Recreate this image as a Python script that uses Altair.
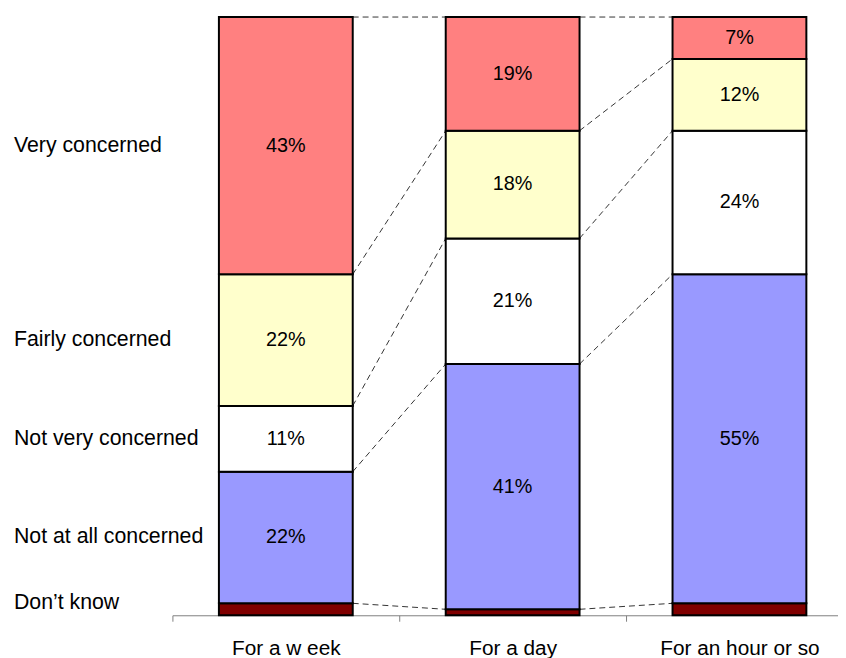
import altair as alt
import pandas as pd

categories = ["For a w eek", "For a day", "For an hour or so"]
series = ["Don’t know", "Not at all concerned", "Not very concerned",
          "Fairly concerned", "Very concerned"]
colors = ["#800000", "#9999FF", "#FFFFFF", "#FFFFCC", "#FF8080"]
week = [2, 22, 11, 22, 43]
day = [1, 41, 21, 18, 19]
hour = [2, 55, 24, 12, 7]
values = [week, day, hour]

BAR_FRAC = 0.59
BAND_PX = 229
PLOT_W = 672
XMAX = PLOT_W / BAND_PX
FONT = "Liberation Sans"
FS = 20
FS_AXIS = 21
FS_SIDE = 21.5

rows = []
cums = []
for i, (cat, vals) in enumerate(zip(categories, values)):
    cum = 0
    c = [0]
    for s, v in zip(series, vals):
        rows.append(dict(cat=cat, series=s, value=v, y0=cum, y1=cum + v,
                         ymid=max(cum + v / 2, 2.0),
                         x0=i + 0.5 - BAR_FRAC / 2, x1=i + 0.5 + BAR_FRAC / 2,
                         xm=i + 0.5,
                         label=("" if s == series[0] else f"{v}%")))
        cum += v
        c.append(cum)
    cums.append(c)
df = pd.DataFrame(rows)

conn = []
for i in range(len(categories) - 1):
    for k in range(1, len(series) + 1):
        conn.append(dict(cx0=i + 0.5 + BAR_FRAC / 2, cx1=i + 1.5 - BAR_FRAC / 2,
                         cy0=cums[i][k], cy1=cums[i + 1][k]))
conn_df = pd.DataFrame(conn)

xscale = alt.Scale(domain=[0, XMAX], nice=False, zero=False)
yscale = alt.Scale(domain=[0, 100], nice=False)

label_expr = "''"
for i in reversed(range(len(categories))):
    label_expr = f"datum.value === {i} ? '{categories[i]}' : ({label_expr})"

xaxis = alt.Axis(values=list(range(len(categories) + 1)), labelExpr=label_expr,
                 title=None, grid=False, domainColor="#808080", domainWidth=1,
                 tickColor="#808080", tickSize=6, labelOverlap=False,
                 labelBound=False, labelFlush=False,
                 labelOffset=BAND_PX / 2,
                 labelFont=FONT, labelFontSize=FS_AXIS, labelColor="black",
                 labelPadding=17, labelBaseline="top")


def X(field):
    return alt.X(field, type="quantitative", scale=xscale, axis=xaxis)


def Y(field):
    return alt.Y(field, type="quantitative", scale=yscale, axis=None)


bars = alt.Chart(df).mark_rect(stroke="black", strokeWidth=2).encode(
    x=X("x0"),
    x2=alt.X2("x1"),
    y=Y("y0"),
    y2=alt.Y2("y1"),
    color=alt.Color("series:N", scale=alt.Scale(domain=series, range=colors), legend=None),
)

connectors = alt.Chart(conn_df).mark_rule(
    strokeDash=[6, 4], color="#333333", strokeWidth=1
).encode(x=X("cx0"), x2=alt.X2("cx1"), y=Y("cy0"), y2=alt.Y2("cy1"))

pct = alt.Chart(df).mark_text(font=FONT, fontSize=FS, color="black").encode(
    x=X("xm"), y=Y("ymid"), text=alt.Text("label:N")
)

side = alt.Chart(df[df["cat"] == categories[0]]).mark_text(
    font=FONT, fontSize=FS_SIDE, color="black", align="left"
).encode(x=alt.value(-160), y=Y("ymid"), text=alt.Text("series:N"))

chart = alt.layer(connectors, bars, pct, side).properties(
    width=PLOT_W, height=604,
    autosize=alt.AutoSizeParams(type="none"),
    padding={"left": 166, "top": 6, "right": 0, "bottom": 40},
    background="white",
).configure_view(strokeWidth=0)

chart.save("out.html", embed_options={"renderer": "svg", "actions": False})
